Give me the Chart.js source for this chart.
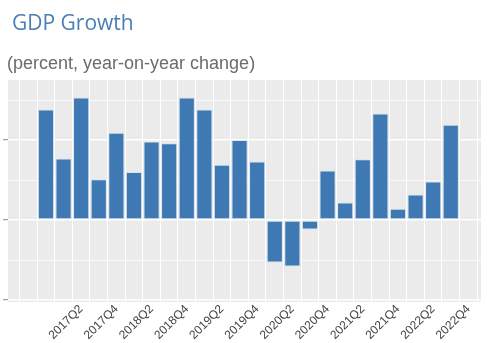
<!DOCTYPE html>
<html>
<head>
<meta charset="utf-8">
<script src="https://cdn.jsdelivr.net/npm/chart.js@4.4.1/dist/chart.umd.min.js"></script>
<style>
  html, body { margin: 0; padding: 0; background: #fff; }
  #wrap { width: 487px; height: 343px; }
</style>
</head>
<body>
<div id="wrap"><canvas id="gdpChart" width="487" height="343"></canvas></div>
<script>
const quarters = ['2016Q4', '2017Q1', '2017Q2', '2017Q3', '2017Q4', '2018Q1', '2018Q2', '2018Q3',
                  '2018Q4', '2019Q1', '2019Q2', '2019Q3', '2019Q4', '2020Q1', '2020Q2', '2020Q3',
                  '2020Q4', '2021Q1', '2021Q2', '2021Q3', '2021Q4', '2022Q1', '2022Q2', '2022Q3'];
const growth = [6.9, 3.85, 7.65, 2.55, 5.45, 3.0, 4.9, 4.8, 7.65, 6.9, 3.45, 5.0,
                3.65, -2.65, -2.9, -0.6, 3.1, 1.1, 3.8, 6.65, 0.7, 1.6, 2.4, 5.95];
const tickLabels = ['2017Q2', '2017Q4', '2018Q2', '2018Q4', '2019Q2', '2019Q4',
                    '2020Q2', '2020Q4', '2021Q2', '2021Q4', '2022Q2', '2022Q4'];
const yMajorStep = 5;
const yMinorStep = 2.5;

const parseQuarter = (q) => q.split('Q').map(Number);
const [baseYear, baseQ] = parseQuarter(quarters[0]);

function quarterIndex(q) {
    const [y, n] = parseQuarter(q);
    return (y - baseYear) * 4 + (n - baseQ);
}

function quarterName(i) {
    const total = baseYear * 4 + (baseQ - 1) + i;
    return Math.floor(total / 4) + 'Q' + (total % 4 + 1);
}

const panelBackground = {
    id: 'panelBackground',
    beforeDraw(chart) {
        const { ctx, chartArea: a } = chart;
        ctx.save();
        ctx.fillStyle = '#ebebeb';
        ctx.fillRect(a.left, a.top, a.right - a.left, a.bottom - a.top);
        ctx.restore();
    },
    afterDraw(chart) {
        const ctx = chart.ctx;
        ctx.save();
        ctx.textBaseline = 'alphabetic';
        ctx.fillStyle = '#4a7eb4';
        ctx.font = '21px "Open Sans", sans-serif';
        ctx.fillText('GDP Growth', 12, 30);
        ctx.fillStyle = '#6b6b6b';
        ctx.font = '18px "Liberation Sans", Arial, sans-serif';
        ctx.fillText('(percent, year-on-year change)', 7, 69);
        ctx.restore();
    }
};

const ctxGdp = document.getElementById('gdpChart').getContext('2d');

new Chart(ctxGdp, {
    type: 'bar',
    data: {
        datasets: [{
            label: 'GDP Growth',
            data: quarters.map((q, i) => ({ x: quarterIndex(q), y: growth[i] })),
            backgroundColor: '#3f79b4',
            borderColor: 'rgba(200, 220, 240, 0.6)',
            borderWidth: 1,
            borderSkipped: false,
            barPercentage: 0.92,
            categoryPercentage: 1
        }]
    },
    options: {
        responsive: false,
        animation: false,
        layout: {
            padding: { left: 3, right: 6, top: 80, bottom: 0 }
        },
        scales: {
            x: {
                type: 'linear',
                min: -1.64,
                max: 24.2,
                afterBuildTicks: (scale) => {
                    const ticks = [];
                    for (let i = Math.ceil(scale.min); i <= Math.floor(scale.max); i++) {
                        ticks.push({ value: i });
                    }
                    scale.ticks = ticks;
                },
                afterFit: (scale) => { scale.height = 41; },
                border: { display: false },
                grid: {
                    color: '#ffffff',
                    lineWidth: 1,
                    drawTicks: false
                },
                ticks: {
                    autoSkip: false,
                    minRotation: 45,
                    maxRotation: 45,
                    padding: 0,
                    labelOffset: 0,
                    color: '#444444',
                    font: { family: '"Liberation Sans", Arial, sans-serif', size: 12 },
                    callback: (value) => {
                        const name = quarterName(value);
                        return tickLabels.includes(name) ? name : '';
                    }
                }
            },
            y: {
                min: -5.125,
                max: 8.75,
                afterBuildTicks: (scale) => {
                    const ticks = [];
                    for (let v = Math.ceil(scale.min / yMinorStep) * yMinorStep; v <= scale.max; v += yMinorStep) {
                        ticks.push({ value: v });
                    }
                    scale.ticks = ticks;
                },
                afterFit: (scale) => { scale.width = 5; },
                border: { display: false },
                grid: {
                    color: '#ffffff',
                    lineWidth: (c) => (c.tick && c.tick.value % yMajorStep === 0 ? 1.4 : 0.7),
                    tickColor: (c) => (c.tick && c.tick.value % yMajorStep === 0 ? '#8a8a8a' : 'rgba(0,0,0,0)'),
                    tickLength: 5,
                    tickWidth: 1
                },
                ticks: { display: false }
            }
        },
        plugins: {
            legend: { display: false },
            title: { display: false },
            tooltip: { enabled: false }
        }
    },
    plugins: [panelBackground]
});
</script>
</body>
</html>
